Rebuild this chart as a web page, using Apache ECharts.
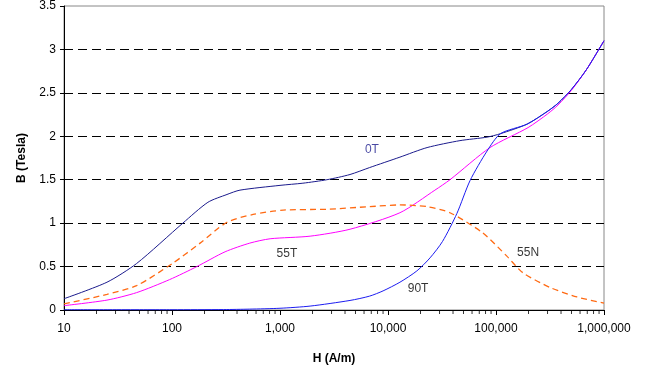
<!DOCTYPE html>
<html>
<head>
<meta charset="utf-8">
<script src="https://cdn.jsdelivr.net/npm/echarts@6/dist/echarts.min.js"></script>
<style>
  html, body { margin: 0; padding: 0; background: #fff; }
  #chart { width: 662px; height: 370px; }
</style>
</head>
<body>
<div id="chart"></div>
<script>
// H (A/m) and B (Tesla)
const h0T = [10, 25, 47, 126, 215, 323, 426, 1000, 1630, 2720, 4450, 6760, 12900, 23000, 46400, 82600, 110000, 194000, 302000, 375000, 500000, 690000, 1000000]
const b0T = [0.13, 0.32, 0.535, 1.0, 1.24, 1.33, 1.38, 1.435, 1.46, 1.50, 1.56, 1.64, 1.76, 1.87, 1.95, 1.99, 2.03, 2.14, 2.29, 2.38, 2.54, 2.77, 3.10]

const h55T = [10, 25, 47, 95, 170, 310, 525, 810, 1900, 4450, 12900, 27200, 37500, 88000, 198000, 302000, 375000, 500000, 690000, 1000000]
const b55T = [0.05, 0.114, 0.20, 0.35, 0.50, 0.67, 0.77, 0.82, 0.85, 0.93, 1.12, 1.38, 1.50, 1.87, 2.10, 2.26, 2.36, 2.53, 2.77, 3.10]

const h55N = [10, 25, 47, 102, 182, 323, 564, 1070, 2720, 6760, 12900, 23000, 37500, 75000, 126000, 177000, 316000, 562000, 1000000]
const b55N = [0.07, 0.18, 0.28, 0.54, 0.77, 1.01, 1.10, 1.15, 1.16, 1.19, 1.21, 1.19, 1.12, 0.89, 0.62, 0.43, 0.26, 0.15, 0.08]

const h90T = [10, 100, 300, 525, 1000, 1900, 4450, 6760, 9000, 12900, 18500, 24500, 32000, 43400, 57500, 82600, 110000, 194000, 302000, 375000, 500000, 690000, 1000000]
const b90T = [0.003, 0.003, 0.005, 0.01, 0.02, 0.045, 0.11, 0.16, 0.22, 0.32, 0.45, 0.60, 0.79, 1.11, 1.49, 1.83, 2.03, 2.14, 2.29, 2.38, 2.54, 2.77, 3.10]

// minor ticks of the log axis
const minorTicks = [20, 30, 40, 50, 60, 70, 80, 90,
  200, 300, 400, 500, 600, 700, 800, 900,
  2000, 3000, 4000, 5000, 6000, 7000, 8000, 9000,
  20000, 30000, 40000, 50000, 60000, 70000, 80000, 90000,
  200000, 300000, 400000, 500000, 600000, 700000, 800000, 900000]

// curve labels: [text, H, B, colour]
const curveLabels = [
  ['0T', 7100, 1.845, '#1a1a8c'],
  ['55T', 1160, 0.65, '#000'],
  ['90T', 19000, 0.24, '#000'],
  ['55N', 198000, 0.66, '#000']
]

const zip = (xs, ys) => xs.map((x, i) => [x, ys[i]])
const font = 'Arial, "Liberation Sans", sans-serif'

const chart = echarts.init(document.getElementById('chart'))

function line (name, xs, ys, color, dashed) {
  return {
    name,
    type: 'line',
    data: zip(xs, ys),
    smooth: 0.25,
    symbol: 'none',
    lineStyle: { color, width: dashed ? 1.3 : 1, type: dashed ? [6, 4] : 'solid' },
    z: 3
  }
}

chart.setOption({
  animation: false,
  grid: {
    left: 64, right: 58, top: 4, bottom: 59,
    show: true, borderColor: '#888', borderWidth: 1
  },
  xAxis: {
    type: 'log',
    logBase: 10,
    min: 10,
    max: 1000000,
    name: 'H (A/m)',
    nameLocation: 'middle',
    nameGap: 43,
    nameTextStyle: { fontFamily: font, fontSize: 12, fontWeight: 'bold', color: '#000' },
    axisLine: { lineStyle: { color: '#000', width: 1 } },
    axisTick: { length: 5, lineStyle: { color: '#000' } },
    axisLabel: {
      color: '#000', fontFamily: font, fontSize: 12, margin: 13,
      formatter: v => Math.round(v).toLocaleString('en-US')
    },
    splitLine: { show: false }
  },
  yAxis: {
    type: 'value',
    min: 0,
    max: 3.5,
    interval: 0.5,
    name: 'B (Tesla)',
    nameLocation: 'middle',
    nameRotate: 90,
    nameGap: 36,
    nameTextStyle: { fontFamily: font, fontSize: 12, fontWeight: 'bold', color: '#000' },
    axisLine: { show: true, lineStyle: { color: '#000', width: 1 } },
    axisTick: { show: true, length: 4, lineStyle: { color: '#000' } },
    axisLabel: { color: '#000', fontFamily: font, fontSize: 12, margin: 8 },
    splitLine: {
      show: true,
      lineStyle: {
        color: ['#000', '#000', '#000', '#000', '#000', '#000', '#000', 'rgba(0,0,0,0)'],
        type: [9, 5],
        width: 1
      }
    }
  },
  series: [
    line('0T', h0T, b0T, '#1a1a8c', false),
    line('55T', h55T, b55T, '#ff00ff', false),
    line('55N', h55N, b55N, '#ff6a13', true),
    line('90T', h90T, b90T, '#1c1cf0', false),
    {
      // minor ticks drawn as thin rects hanging under the axis
      type: 'scatter',
      silent: true,
      clip: false,
      symbol: 'rect',
      symbolSize: [1, 4],
      symbolOffset: [0, 2],
      itemStyle: { color: '#000' },
      data: minorTicks.map(v => [v, 0]),
      z: 5
    },
    {
      type: 'scatter',
      silent: true,
      symbolSize: 0,
      data: curveLabels.map(l => ({
        value: [l[1], l[2]],
        label: {
          show: true, position: 'inside', formatter: l[0],
          color: l[3], fontFamily: font, fontSize: 12
        }
      })),
      z: 6
    }
  ]
})
</script>
</body>
</html>
